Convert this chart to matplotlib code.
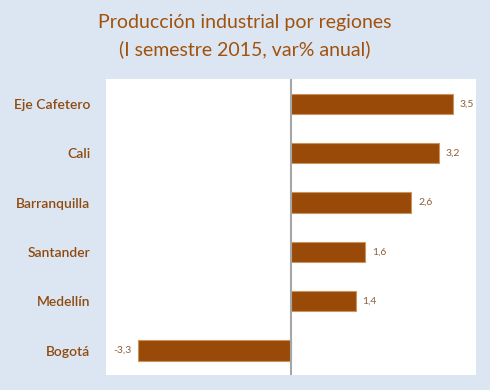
import matplotlib
matplotlib.use("Agg")
import matplotlib.pyplot as plt

plt.rcParams['font.family'] = ['Lato', 'DejaVu Sans']

# data
regions = ["Eje Cafetero", "Cali", "Barranquilla", "Santander", "Medellín", "Bogotá"]
values = [3.5, 3.2, 2.6, 1.6, 1.4, -3.3]
value_labels = ["3,5", "3,2", "2,6", "1,6", "1,4", "-3,3"]

bg = '#dce6f2'
bar_col = '#994a08'
text_col = '#a0520c'

fig = plt.figure(figsize=(4.9, 3.9), dpi=100)
fig.patch.set_facecolor(bg)
ax = fig.add_axes([0.216, 0.038, 0.755, 0.759])
ax.set_facecolor('white')

ypos = list(range(len(regions)))
ax.barh(ypos, values, height=0.41, color=bar_col, edgecolor='#c9955f', linewidth=0.8)
ax.set_ylim(len(regions) - 0.5, -0.5)
ax.set_xlim(-4, 4)

for y, v, lab in zip(ypos, values, value_labels):
    if v >= 0:
        ax.text(v + 0.15, y, lab, ha='left', va='center', fontsize=7.5, color='#8c5f3c')
    else:
        ax.text(v - 0.15, y, lab, ha='right', va='center', fontsize=7.5, color='#8c5f3c')

ax.axvline(0, color='#a6a6a6', linewidth=1.5)
for s in ax.spines.values():
    s.set_visible(False)
ax.set_xticks([])
ax.set_yticks(ypos)
ax.set_yticklabels(regions, fontsize=10, color='#8f4a10', fontweight='semibold')
ax.tick_params(axis='y', length=0, pad=11)

fig.text(0.5, 0.943, "Producción industrial por regiones", ha='center', va='center',
         fontsize=14, color=text_col)
fig.text(0.5, 0.874, "(I semestre 2015, var% anual)", ha='center', va='center',
         fontsize=14, color=text_col)

fig.savefig("out.png", dpi=100, facecolor=bg)
